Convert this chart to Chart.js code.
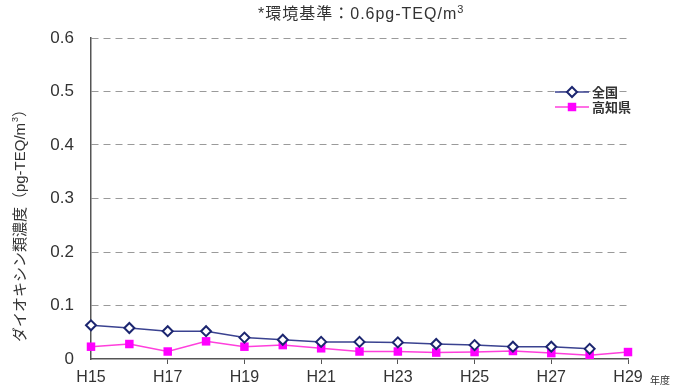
<!DOCTYPE html>
<html lang="ja">
<head>
<meta charset="utf-8">
<title>ダイオキシン類濃度の推移</title>
<script src="https://cdn.jsdelivr.net/npm/chart.js@4/dist/chart.umd.min.js"></script>
<style>
  html, body { margin: 0; padding: 0; background: #fff; }
  canvas { display: block; }
</style>
</head>
<body>
<canvas id="chart" width="692" height="391"></canvas>
<script>
// 年度ラベル（H15〜H29）
const years = ['H15','H16','H17','H18','H19','H20','H21','H22','H23','H24','H25','H26','H27','H28','H29'];
// 全国平均（pg-TEQ/m3）
const national = [0.063, 0.058, 0.052, 0.052, 0.040, 0.036, 0.032, 0.032, 0.031, 0.028, 0.026, 0.023, 0.023, 0.019, null];
// 高知県平均（pg-TEQ/m3）
const kochi = [0.023, 0.028, 0.014, 0.033, 0.023, 0.026, 0.020, 0.014, 0.014, 0.012, 0.013, 0.015, 0.011, 0.007, 0.013];
// 縦軸目盛
const yTicks = [0, 0.1, 0.2, 0.3, 0.4, 0.5, 0.6];

const seriesNames = ['全国', '高知県'];
const titleText = '*環境基準：0.6pg-TEQ/m';
const yTitleText = 'ダイオキシン類濃度（pg-TEQ/m';
const unitText = '年度';

const FONT = '"Liberation Sans", "Noto Sans CJK JP", sans-serif';
const TEXT = '#333';
const NAVY = '#1c2670';
const NAVY_LINE = '#3a4290';
const MAGENTA = '#ff00ff';
const MAGENTA_LINE = '#ff3fdc';

// 凡例・タイトル・軸タイトルの描画
const annotations = {
  id: 'annotations',
  afterDraw(chart) {
    const ctx = chart.ctx;
    ctx.save();

    // タイトル
    ctx.fillStyle = TEXT;
    ctx.font = '16px ' + FONT;
    ctx.letterSpacing = '1px';
    ctx.textBaseline = 'middle';
    ctx.textAlign = 'left';
    const tw = ctx.measureText(titleText).width;
    const tx = 258;
    ctx.fillText(titleText, tx, 15);
    ctx.font = '11px ' + FONT;
    ctx.fillText('3', tx + tw, 10);
    ctx.letterSpacing = '0px';

    // 縦軸タイトル（回転）
    ctx.save();
    ctx.translate(21, 222);
    ctx.rotate(-Math.PI / 2);
    ctx.font = '15px ' + FONT;
    ctx.fillStyle = TEXT;
    ctx.textAlign = 'left';
    const yw = ctx.measureText(yTitleText).width;
    const startX = -(yw + 21) / 2;
    ctx.fillText(yTitleText, startX, 0);
    ctx.font = '9px ' + FONT;
    ctx.fillText('3', startX + yw + 1, -5);
    ctx.font = '15px ' + FONT;
    ctx.fillText('）', startX + yw + 6, 0);
    ctx.restore();

    // 単位「年度」
    ctx.font = '10px ' + FONT;
    ctx.fillStyle = TEXT;
    ctx.textAlign = 'left';
    ctx.fillText(unitText, 650, 381);

    // 凡例
    const cx = 572;
    const items = [
      { y: 92, ds: chart.data.datasets[0] },
      { y: 107, ds: chart.data.datasets[1] }
    ];
    items.forEach(({ y, ds }) => {
      ctx.strokeStyle = ds.borderColor;
      ctx.lineWidth = 1.5;
      ctx.beginPath();
      ctx.moveTo(555, y);
      ctx.lineTo(589, y);
      ctx.stroke();
      ctx.fillStyle = ds.pointBackgroundColor;
      ctx.strokeStyle = ds.pointBorderColor;
      ctx.lineWidth = ds.pointBorderWidth;
      ctx.beginPath();
      if (ds.pointStyle === 'rectRot') {
        const r = ds.pointRadius;
        ctx.moveTo(cx, y - r);
        ctx.lineTo(cx + r, y);
        ctx.lineTo(cx, y + r);
        ctx.lineTo(cx - r, y);
        ctx.closePath();
        ctx.fill();
        ctx.stroke();
      } else {
        const s = ds.pointRadius * Math.SQRT1_2;
        ctx.rect(cx - s, y - s, 2 * s, 2 * s);
        ctx.fill();
      }
      ctx.fillStyle = TEXT;
      ctx.font = 'bold 13px ' + FONT;
      ctx.textAlign = 'left';
      ctx.fillText(ds.label, 592, y + 1);
    });

    ctx.restore();
  }
};

new Chart(document.getElementById('chart'), {
  type: 'line',
  data: {
    labels: years,
    datasets: [
      {
        label: seriesNames[0],
        data: national,
        borderColor: NAVY_LINE,
        borderWidth: 1.5,
        pointStyle: 'rectRot',
        pointRadius: 5,
        pointBorderWidth: 2,
        pointBackgroundColor: '#fff',
        pointBorderColor: NAVY,
        tension: 0,
        spanGaps: false
      },
      {
        label: seriesNames[1],
        data: kochi,
        borderColor: MAGENTA_LINE,
        borderWidth: 1.5,
        pointStyle: 'rect',
        pointRadius: 6,
        pointBorderWidth: 0,
        pointBackgroundColor: MAGENTA,
        pointBorderColor: MAGENTA,
        tension: 0
      }
    ]
  },
  options: {
    responsive: false,
    animation: false,
    layout: { padding: { top: 38, right: 64, left: 0, bottom: 0 } },
    plugins: {
      legend: { display: false },
      title: { display: false },
      tooltip: { enabled: false }
    },
    scales: {
      x: {
        type: 'category',
        offset: false,
        afterFit(scale) { scale.height = 32; },
        border: { display: true, color: '#555', width: 1.5 },
        grid: {
          display: true,
          drawOnChartArea: false,
          drawTicks: true,
          tickLength: 5,
          color: (c) => (c.index % 2 === 0 && c.index > 0) ? '#555' : 'rgba(0,0,0,0)'
        },
        ticks: {
          autoSkip: false,
          maxRotation: 0,
          minRotation: 0,
          padding: 4,
          color: TEXT,
          font: { family: FONT, size: 16 },
          callback: (v, i) => (i % 2 === 0 ? years[i] : '')
        }
      },
      y: {
        min: yTicks[0],
        max: yTicks[yTicks.length - 1],
        afterFit(scale) { scale.width = 91; },
        afterBuildTicks(scale) { scale.ticks = yTicks.map(v => ({ value: v })); },
        // border.dash は横グリッド線を破線にする（軸線は実線のまま）
        border: { display: true, color: '#555', width: 1.5, dash: [7, 5] },
        grid: {
          drawTicks: false,
          color: (c) => (c.tick && c.tick.value === 0) ? 'rgba(0,0,0,0)' : '#9a9a9a',
          lineWidth: 1
        },
        ticks: {
          padding: 17,
          color: TEXT,
          font: { family: FONT, size: 17 },
          callback: (v) => (v === 0 ? '0' : v.toFixed(1))
        }
      }
    }
  },
  plugins: [annotations]
});
</script>
</body>
</html>
